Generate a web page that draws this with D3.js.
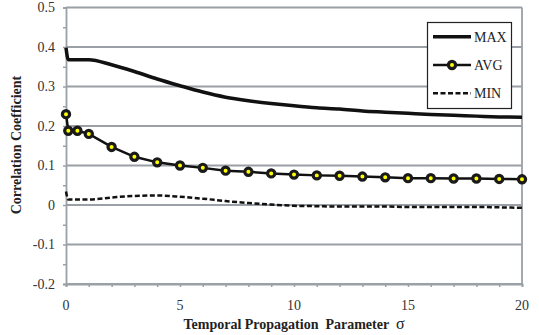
<!DOCTYPE html>
<html>
<head>
<meta charset="utf-8">
<script src="https://cdn.jsdelivr.net/npm/d3@7"></script>
<style>
  body { margin: 0; background: #fff; }
</style>
</head>
<body>
<div id="graph"></div>
<script>
// sigma values
const sigma = [0, 0.1, 0.5, 1, 2, 3, 4, 5, 6, 7, 8, 9, 10, 11, 12, 13, 14, 15, 16, 17, 18, 19, 20]
const maxVals = [0.398, 0.368, 0.368, 0.368, 0.355, 0.338, 0.319, 0.302, 0.286, 0.273, 0.264, 0.257, 0.251, 0.246, 0.243, 0.238, 0.235, 0.232, 0.229, 0.227, 0.225, 0.223, 0.222]
const avgVals = [0.230, 0.188, 0.188, 0.180, 0.147, 0.122, 0.108, 0.100, 0.094, 0.087, 0.084, 0.080, 0.077, 0.075, 0.074, 0.072, 0.070, 0.068, 0.068, 0.067, 0.067, 0.066, 0.065]
const minVals = [0.034, 0.014, 0.014, 0.014, 0.019, 0.023, 0.024, 0.021, 0.016, 0.010, 0.005, 0.001, -0.002, -0.003, -0.004, -0.004, -0.004, -0.005, -0.005, -0.005, -0.005, -0.006, -0.007]
const xTicks = [0, 5, 10, 15, 20]
const yTicks = [-0.2, -0.1, 0, 0.1, 0.2, 0.3, 0.4, 0.5]
const yTickLabels = ["-0.2", "-0.1", "0", "0.1", "0.2", "0.3", "0.4", "0.5"]
const seriesNames = ["MAX", "AVG", "MIN"]

const serif = "Liberation Serif"

let width = 539, height = 335
let margin = { top: 7.5, right: 17, bottom: 51, left: 66 }

let svg = d3.select("#graph")
    .append("svg")
    .attr("width", width)
    .attr("height", height)
    .attr("font-family", serif)

let x = d3.scaleLinear()
    .domain([0, 20])
    .range([margin.left, width - margin.right])

let y = d3.scaleLinear()
    .domain([-0.2, 0.5])
    .range([height - margin.bottom, margin.top])

const grey = "#9aa0a6"

// gridlines
svg.append("g")
    .selectAll("line")
    .data(yTicks)
    .join("line")
    .attr("x1", x(0))
    .attr("x2", x(20))
    .attr("y1", d => y(d))
    .attr("y2", d => y(d))
    .attr("stroke", grey)
    .attr("stroke-width", 1.8)

// right border
svg.append("line")
    .attr("x1", x(20)).attr("x2", x(20))
    .attr("y1", y(0.5)).attr("y2", y(-0.2))
    .attr("stroke", grey).attr("stroke-width", 1.8)

// Y axis with minor ticks
let yAxis = svg.append("g")
    .attr("transform", "translate(" + x(0) + ",0)")
    .call(d3.axisLeft(y).tickValues(d3.range(-0.2, 0.501, 0.05)).tickSize(3).tickFormat(""))
yAxis.select(".domain").attr("stroke", grey).attr("stroke-width", 1.8)
yAxis.selectAll(".tick line").attr("stroke", grey).attr("stroke-width", 1.5)

svg.append("g")
    .selectAll("text")
    .data(yTicks)
    .join("text")
    .attr("x", 55)
    .attr("y", d => y(d) + 4.5)
    .attr("text-anchor", "end")
    .attr("font-size", 14)
    .attr("fill", "#333")
    .text((d, i) => yTickLabels[i])

// X axis
let xAxis = svg.append("g")
    .attr("transform", "translate(0," + y(-0.2) + ")")
    .call(d3.axisBottom(x).tickValues(d3.range(0, 21, 1)).tickSize(3).tickFormat(""))
xAxis.select(".domain").attr("stroke", grey).attr("stroke-width", 1.8)
xAxis.selectAll(".tick line").attr("stroke", grey).attr("stroke-width", 1.5)

svg.append("g")
    .selectAll("text")
    .data(xTicks)
    .join("text")
    .attr("x", d => x(d))
    .attr("y", 310)
    .attr("text-anchor", "middle")
    .attr("font-size", 14)
    .attr("fill", "#333")
    .text(d => d)

// titles
svg.append("text")
    .attr("transform", "translate(21,145) rotate(-90)")
    .attr("text-anchor", "middle")
    .attr("font-size", 14)
    .attr("font-weight", "bold")
    .attr("fill", "#222")
    .text("Correlation Coefficient")

svg.append("text")
    .attr("x", 294)
    .attr("y", 329)
    .attr("text-anchor", "middle")
    .attr("font-size", 14)
    .attr("font-weight", "bold")
    .attr("fill", "#222")
    .style("white-space", "pre")
    .text("Temporal Propagation  Parameter  ")
    .append("tspan")
    .attr("font-weight", "normal")
    .attr("font-size", 16)
    .text("σ")

// lines
let line = d3.line()
    .x((d, i) => x(sigma[i]))
    .y(d => y(d))
    .curve(d3.curveMonotoneX)

svg.append("path")
    .datum(maxVals)
    .attr("d", line)
    .attr("fill", "none")
    .attr("stroke", "#111")
    .attr("stroke-width", 3.5)

svg.append("path")
    .datum(minVals)
    .attr("d", line)
    .attr("fill", "none")
    .attr("stroke", "#111")
    .attr("stroke-width", 2.5)
    .attr("stroke-dasharray", "5,2.5")

let lineAvg = d3.line()
    .x((d, i) => x(sigma[i]))
    .y(d => y(d))

svg.append("path")
    .datum(avgVals)
    .attr("d", lineAvg)
    .attr("fill", "none")
    .attr("stroke", "#111")
    .attr("stroke-width", 2.5)

svg.append("g")
    .selectAll("circle")
    .data(avgVals)
    .join("circle")
    .attr("cx", (d, i) => x(sigma[i]))
    .attr("cy", d => y(d))
    .attr("r", 3.6)
    .attr("fill", "#ffff00")
    .attr("stroke", "#1a1a1a")
    .attr("stroke-width", 3.2)

// legend
svg.append("rect")
    .attr("x", 427.5).attr("y", 22.5)
    .attr("width", 84).attr("height", 86)
    .attr("fill", "#fff")
    .attr("stroke", "#222")
    .attr("stroke-width", 1.2)

let legY = [36.7, 65, 93.3]
seriesNames.forEach((name, i) => {
    let g = svg.append("g")
    g.append("line")
        .attr("x1", 433).attr("x2", 471)
        .attr("y1", legY[i]).attr("y2", legY[i])
        .attr("stroke", "#111")
        .attr("stroke-width", i === 0 ? 3.5 : 2.5)
        .attr("stroke-dasharray", i === 2 ? "5,2.5" : null)
    if (i === 1) {
        g.append("circle")
            .attr("cx", 452).attr("cy", legY[i])
            .attr("r", 3.6)
            .attr("fill", "#ffff00")
            .attr("stroke", "#1a1a1a")
            .attr("stroke-width", 3.2)
    }
    g.append("text")
        .attr("x", 474)
        .attr("y", legY[i] + 5)
        .attr("font-size", 14)
        .attr("fill", "#222")
        .text(name)
})
</script>
</body>
</html>
